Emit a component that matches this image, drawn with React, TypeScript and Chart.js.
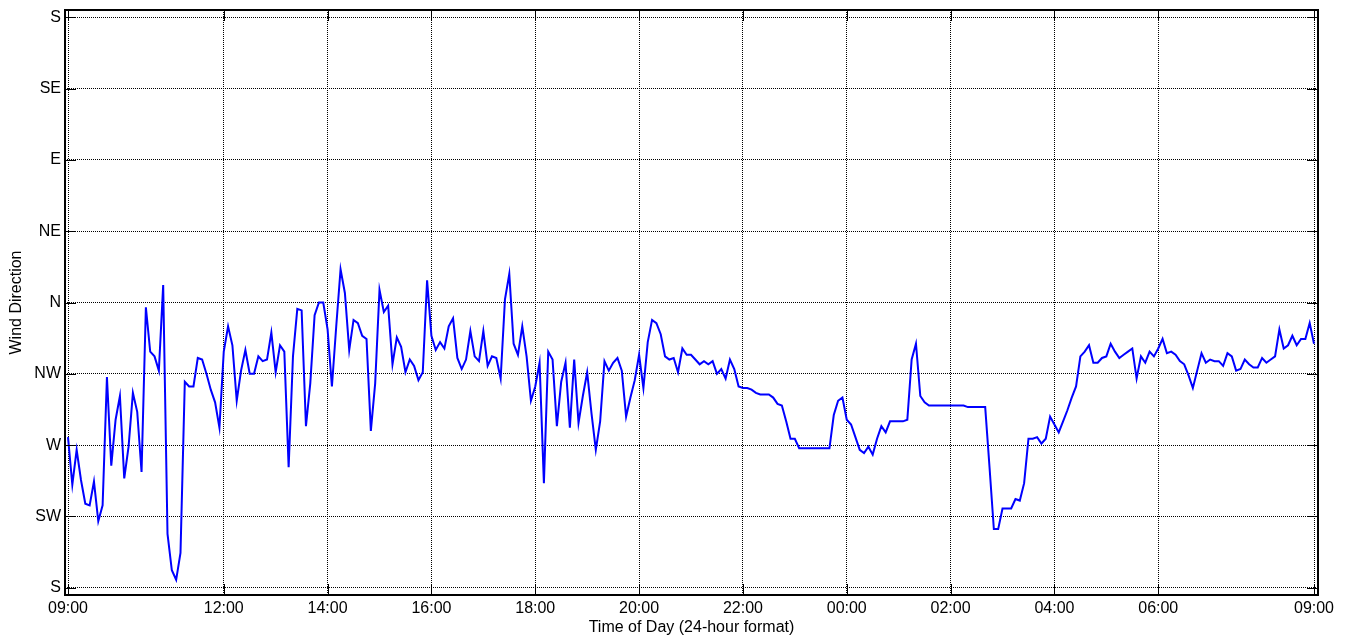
import React, { useEffect, useRef } from "react";
import { Chart, registerables } from "chart.js";

Chart.register(...registerables);

// Wind direction in compass degrees (0 = N, 90 = E, 180 = S, 270 = W), one reading every 5 minutes from 09:00
const STEP_MINUTES = 5;

const dir09to13 = [
  275, 245, 267, 248, 233, 232, 247, 222, 232, 313,
  257, 286, 301, 249, 269, 303, 291, 253, 357, 329,
  326, 317, 11, 214, 191, 185, 202, 310, 307, 307,
  325, 324, 315, 305, 297, 281, 329, 345, 333, 298,
  317, 330, 315, 315, 326, 323, 324, 341,
];
const dir13to17 = [
  316, 333, 329, 256, 326, 356, 355, 282, 309, 352,
  0, 0, 343, 307, 345, 21, 6, 330, 349, 347,
  339, 337, 279, 309, 8, 354, 358, 321, 338, 332,
  316, 324, 320, 311, 316, 14, 339, 330, 335, 331,
  345, 350, 325, 318, 324, 342, 326, 323,
];
const dir17to21 = [
  342, 320, 326, 325, 312, 2, 18, 334, 327, 345,
  326, 298, 307, 322, 246, 329, 324, 282, 310, 322,
  281, 324, 284, 301, 316, 290, 267, 285, 323, 317,
  322, 325, 317, 288, 300, 311, 327, 306, 335, 349,
  347, 340, 326, 324, 325, 316, 331, 327,
];
const dir21to01 = [
  327, 324, 321, 323, 321, 323, 315, 318, 312, 324,
  318, 307, 306, 306, 305, 303, 302, 302, 302, 300,
  296, 295, 285, 274, 274, 268, 268, 268, 268, 268,
  268, 268, 268, 289, 298, 300, 286, 283, 275, 267,
  265, 269, 264, 274, 282, 278, 285, 285,
];
const dir01to05 = [
  285, 285, 286, 324, 334, 301, 297, 295, 295, 295,
  295, 295, 295, 295, 295, 295, 294, 294, 294, 294,
  294, 256, 217, 217, 230, 230, 230, 236, 235, 246,
  274, 274, 275, 271, 274, 288, 283, 278, 285, 292,
  300, 307, 326, 329, 333, 322, 322, 325,
];
const dir05to09 = [
  326, 334, 329, 325, 327, 329, 331, 312, 326, 322,
  329, 326, 331, 337, 328, 329, 327, 323, 321, 314,
  306, 317, 328, 322, 324, 323, 323, 320, 328, 326,
  317, 318, 324, 321, 319, 319, 325, 322, 324, 326,
  343, 331, 333, 339, 333, 337, 337, 347, 334,
];

const directionSeries = [
  ...dir09to13,
  ...dir13to17,
  ...dir17to21,
  ...dir21to01,
  ...dir01to05,
  ...dir05to09,
];

// Hours elapsed since 09:00
const xTickHours = [0, 3, 5, 7, 9, 11, 13, 15, 17, 19, 21, 24];
const xTickLabels = [
  "09:00", "12:00", "14:00", "16:00", "18:00", "20:00",
  "22:00", "00:00", "02:00", "04:00", "06:00", "09:00",
];
// Unwrapped degrees: bottom S = 180 ... N = 360 ... top S = 540
const yTickDegrees = [180, 225, 270, 315, 360, 405, 450, 495, 540];
const yTickLabels = ["S", "SW", "W", "NW", "N", "NE", "E", "SE", "S"];

const FONT = "'Liberation Sans', Arial, Helvetica, sans-serif";

const unwrap = (d: number) => (d < 180 ? d + 360 : d);

const framePlugin = {
  id: "frameAndInnerTicks",
  afterDraw(chart: any) {
    const { ctx, chartArea } = chart;
    const { left, right, top, bottom } = chartArea;
    const xs = chart.scales.x;
    const ys = chart.scales.y;
    const len = 11;
    ctx.save();
    ctx.strokeStyle = "#000";
    ctx.lineWidth = 1;
    ctx.setLineDash([]);
    ctx.beginPath();
    xTickHours.forEach((h) => {
      const px = Math.round(xs.getPixelForValue(h)) + 0.5;
      ctx.moveTo(px, top);
      ctx.lineTo(px, top + len);
      ctx.moveTo(px, bottom);
      ctx.lineTo(px, bottom - len);
    });
    yTickDegrees.forEach((d) => {
      const py = Math.round(ys.getPixelForValue(d)) + 0.5;
      ctx.moveTo(left, py);
      ctx.lineTo(left + len, py);
      ctx.moveTo(right, py);
      ctx.lineTo(right - len, py);
    });
    ctx.stroke();
    ctx.lineWidth = 2;
    ctx.strokeRect(left, top, right - left, bottom - top);
    ctx.restore();
  },
};

export default function App() {
  const canvasRef = useRef<HTMLCanvasElement | null>(null);

  useEffect(() => {
    const canvas = canvasRef.current;
    if (!canvas) return;
    const points = directionSeries.map((d, i) => ({
      x: (i * STEP_MINUTES) / 60,
      y: unwrap(d),
    }));
    const chart = new Chart(canvas, {
      type: "line",
      data: {
        datasets: [
          {
            label: "Wind Direction",
            data: points,
            borderColor: "#0000ff",
            backgroundColor: "#0000ff",
            borderWidth: 2,
            pointRadius: 0,
            tension: 0,
            fill: false,
          },
        ],
      },
      options: {
        responsive: false,
        animation: false,
        layout: { padding: { top: 10, right: 31, bottom: 0, left: 0 } },
        plugins: {
          legend: { display: false },
          tooltip: { enabled: false },
        },
        scales: {
          x: {
            type: "linear",
            min: -0.0578,
            max: 24.077,
            afterBuildTicks: (s: any) => {
              s.ticks = xTickHours.map((v) => ({ value: v }));
            },
            afterFit: (s: any) => {
              s.height = 45;
              s.paddingLeft = 0;
              s.paddingRight = 0;
            },
            ticks: {
              autoSkip: false,
              maxRotation: 0,
              minRotation: 0,
              padding: 4,
              color: "#000",
              font: { family: FONT, size: 16 },
              callback: (_v: any, i: number) => xTickLabels[i],
            },
            grid: { color: "#000", lineWidth: 1, drawTicks: false },
            border: { display: false, dash: [1, 1] },
            title: {
              display: true,
              text: "Time of Day (24-hour format)",
              color: "#000",
              font: { family: FONT, size: 16 },
              padding: { top: 0, bottom: 3 },
            },
          },
          y: {
            type: "linear",
            min: 175.4,
            max: 544.6,
            afterBuildTicks: (s: any) => {
              s.ticks = yTickDegrees.map((v) => ({ value: v }));
            },
            afterFit: (s: any) => {
              s.width = 65;
              s.paddingTop = 0;
              s.paddingBottom = 0;
            },
            ticks: {
              padding: 4,
              color: "#000",
              font: { family: FONT, size: 16 },
              callback: (_v: any, i: number) => yTickLabels[i],
            },
            grid: { color: "#000", lineWidth: 1, drawTicks: false },
            border: { display: false, dash: [1, 1] },
            title: {
              display: true,
              text: "Wind Direction",
              color: "#000",
              font: { family: FONT, size: 16 },
              padding: { top: 7, bottom: 0 },
            },
          },
        },
      },
      plugins: [framePlugin],
    } as any);
    return () => chart.destroy();
  }, []);

  return (
    <div
      style={{
        position: "fixed",
        left: 0,
        top: 0,
        width: 1349,
        height: 640,
        background: "#fff",
      }}
    >
      <canvas ref={canvasRef} width={1349} height={640} style={{ display: "block" }} />
    </div>
  );
}
